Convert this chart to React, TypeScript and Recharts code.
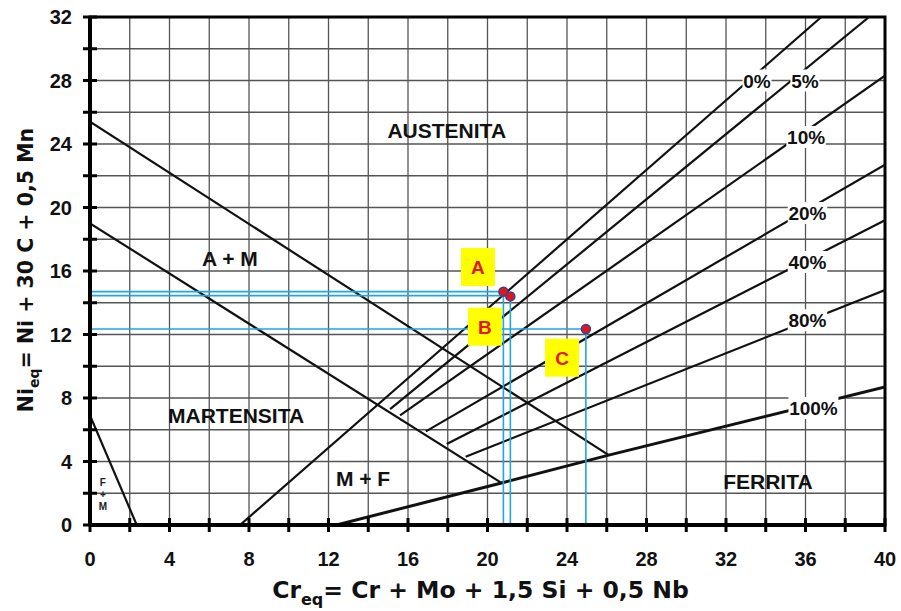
import React from 'react';
import { ComposedChart, Line, Scatter, XAxis, YAxis, CartesianGrid, ReferenceArea } from 'recharts';

// axis ticks: grid every 2, labels every 4
const xTicks = [0, 2, 4, 6, 8, 10, 12, 14, 16, 18, 20, 22, 24, 26, 28, 30, 32, 34, 36, 38, 40];
const yTicks = [0, 2, 4, 6, 8, 10, 12, 14, 16, 18, 20, 22, 24, 26, 28, 30, 32];

// phase boundaries (Cr_eq, Ni_eq)
const austeniteBoundary = [{ x: 0, y: 25.4 }, { x: 26.1, y: 4.4 }];
const martensiteBoundary = [{ x: 0, y: 19 }, { x: 20.7, y: 2.65 }];
const fmBoundary = [{ x: 0, y: 6.9 }, { x: 2.35, y: 0 }];
const ferrite0 = [{ x: 7.55, y: 0 }, { x: 36.8, y: 32 }];
const ferrite5 = [{ x: 15.1, y: 7.3 }, { x: 39.2, y: 32 }];
const ferrite10 = [{ x: 15.6, y: 6.9 }, { x: 40, y: 28.3 }];
const ferrite20 = [{ x: 16.9, y: 5.9 }, { x: 40, y: 22.7 }];
const ferrite40 = [{ x: 17.95, y: 5.1 }, { x: 40, y: 19.2 }];
const ferrite80 = [{ x: 18.9, y: 4.3 }, { x: 40, y: 14.8 }];
const ferrite100 = [{ x: 12.4, y: 0 }, { x: 20.7, y: 2.65 }, { x: 26.1, y: 4.4 }, { x: 40, y: 8.7 }];

const percentLabels = [
  { x: 33.56, y: 28.0, text: '0%' },
  { x: 35.97, y: 28.0, text: '5%' },
  { x: 36.03, y: 24.44, text: '10%' },
  { x: 36.1, y: 19.65, text: '20%' },
  { x: 36.1, y: 16.57, text: '40%' },
  { x: 36.1, y: 12.9, text: '80%' },
  { x: 36.4, y: 7.37, text: '100%' },
];

const regionLabels = [
  { x: 17.95, y: 24.9, text: 'AUSTENITA' },
  { x: 7.04, y: 16.85, text: 'A + M' },
  { x: 7.35, y: 6.93, text: 'MARTENSITA' },
  { x: 13.74, y: 2.99, text: 'M + F' },
  { x: 34.11, y: 2.77, text: 'FERRITA' },
];

// small stacked "F + M" label in the corner
const fmLabel = [{ x: 0.65, y: 2.0, lines: ['F', '+', 'M'] }];

// steel points A, B, C
const points = [
  { x: 20.8, y: 14.7, name: 'A' },
  { x: 21.15, y: 14.4, name: 'B' },
  { x: 24.95, y: 12.35, name: 'C' },
];
const pointTags = [
  { x: 19.52, y: 16.25, text: 'A' },
  { x: 19.87, y: 12.49, text: 'B' },
  { x: 23.75, y: 10.54, text: 'C' },
];

const guideA = [{ x: 0, y: 14.7 }, { x: 20.8, y: 14.7 }, { x: 20.8, y: 0 }];
const guideB = [{ x: 0, y: 14.45 }, { x: 21.15, y: 14.45 }, { x: 21.15, y: 0 }];
const guideC = [{ x: 0, y: 12.35 }, { x: 24.95, y: 12.35 }, { x: 24.95, y: 0 }];

const FONT = '"Liberation Sans", Arial, sans-serif';
const BLUE = '#22a5e0';

const blackLines = [austeniteBoundary, martensiteBoundary, fmBoundary, ferrite0, ferrite5, ferrite10, ferrite20, ferrite40, ferrite80];

const XTick = ({ x, y, payload }: any) => (
  <g>
    <line x1={x} x2={x} y1={y - 7} y2={y + 7} stroke="#000" strokeWidth={3} />
    {payload.value % 4 === 0 && (
      <text x={x} y={y + 41} textAnchor="middle" fontFamily={FONT} fontWeight="bold" fontSize={20} fill="#111">
        {payload.value}
      </text>
    )}
  </g>
);

const YTick = ({ x, y, payload }: any) => (
  <g>
    <line x1={x - 7} x2={x + 7} y1={y} y2={y} stroke="#000" strokeWidth={3} />
    {payload.value % 4 === 0 && (
      <text x={x - 18} y={y + 7} textAnchor="end" fontFamily={FONT} fontWeight="bold" fontSize={20} fill="#111">
        {payload.value}
      </text>
    )}
  </g>
);

const XTitle = ({ viewBox }: any) => (
  <text x={viewBox.x + viewBox.width / 2 - 7} y={viewBox.y + 73} textAnchor="middle"
    fontFamily='"DejaVu Sans", sans-serif' fontWeight="bold" fontSize={23.5} fill="#111">
    Cr<tspan fontSize={16} dy={7}>eq</tspan><tspan dy={-7}>= Cr + Mo + 1,5 Si + 0,5 Nb</tspan>
  </text>
);

const YTitle = ({ viewBox }: any) => {
  const cx = 33;
  const cy = viewBox.y + viewBox.height / 2 - 1;
  return (
    <text x={cx} y={cy} transform={`rotate(-90 ${cx} ${cy})`} textAnchor="middle"
      fontFamily='"DejaVu Sans", sans-serif' fontWeight="bold" fontSize={20.5} fill="#111">
      Ni<tspan fontSize={14} dy={6}>eq</tspan><tspan dy={-6}>= Ni + 30 C + 0,5 Mn</tspan>
    </text>
  );
};

const PercentShape = ({ cx, cy, payload }: any) => {
  const w = payload.text.length * 10.5 + 8;
  return (
    <g>
      <rect x={cx - w / 2} y={cy - 11} width={w} height={22} fill="#fff" />
      <text x={cx} y={cy + 7} textAnchor="middle" fontFamily={FONT} fontWeight="bold" fontSize={19} fill="#111">
        {payload.text}
      </text>
    </g>
  );
};

const RegionShape = ({ cx, cy, payload }: any) => (
  <text x={cx} y={cy + 8} textAnchor="middle" fontFamily={FONT} fontWeight="bold" fontSize={21} fill="#111">
    {payload.text}
  </text>
);

const StackShape = ({ cx, cy, payload }: any) => (
  <g>
    {payload.lines.map((s: string, i: number) => (
      <text key={i} x={cx} y={cy - 7 + i * 12} textAnchor="middle" fontFamily={FONT} fontWeight="bold"
        fontSize={10} fill="#222">{s}</text>
    ))}
  </g>
);

const TagShape = ({ cx, cy, payload }: any) => (
  <g>
    <rect x={cx - 17} y={cy - 19} width={34} height={38} fill="#ffff00" />
    <text x={cx} y={cy + 7} textAnchor="middle" fontFamily={FONT} fontWeight="bold" fontSize={19} fill="#e3171c">
      {payload.text}
    </text>
  </g>
);

const DotShape = ({ cx, cy }: any) => (
  <circle cx={cx} cy={cy} r={4.5} fill="#e0161d" stroke="#3a3f8f" strokeWidth={1.5} />
);

export default function App() {
  return (
    <div style={{ width: 901, height: 611, background: '#fff' }}>
      <style>{'body{margin:0}'}</style>
      <ComposedChart width={901} height={611} margin={{ top: 17, right: 16, bottom: 0, left: 0 }}>
        <CartesianGrid stroke="#555" strokeWidth={1.3} />
        <XAxis type="number" dataKey="x" domain={[0, 40]} ticks={xTicks} interval={0} height={86}
          tick={<XTick />} tickLine={false} tickSize={0} tickMargin={0}
          axisLine={{ stroke: '#000', strokeWidth: 4 }} label={<XTitle />} allowDataOverflow />
        <YAxis type="number" dataKey="y" domain={[0, 32]} ticks={yTicks} interval={0} width={90}
          tick={<YTick />} tickLine={false} tickSize={0} tickMargin={0}
          axisLine={{ stroke: '#000', strokeWidth: 4 }} label={<YTitle />} allowDataOverflow />
        <ReferenceArea x1={0} x2={40} y1={0} y2={32} fill="none" stroke="#000" strokeWidth={3} />
        {blackLines.map((d, i) => (
          <Line key={`b${i}`} data={d} dataKey="y" type="linear" stroke="#111" strokeWidth={2.2}
            dot={false} activeDot={false} isAnimationActive={false} />
        ))}
        <Line data={ferrite100} dataKey="y" type="linear" stroke="#111" strokeWidth={3}
          dot={false} activeDot={false} isAnimationActive={false} />
        <Scatter data={percentLabels} dataKey="y" shape={<PercentShape />} isAnimationActive={false} />
        <Scatter data={regionLabels} dataKey="y" shape={<RegionShape />} isAnimationActive={false} />
        <Scatter data={fmLabel} dataKey="y" shape={<StackShape />} isAnimationActive={false} />
        {[guideA, guideB, guideC].map((d, i) => (
          <Line key={`g${i}`} data={d} dataKey="y" type="linear" stroke={BLUE} strokeWidth={1.6}
            dot={false} activeDot={false} isAnimationActive={false} />
        ))}
        <Scatter data={pointTags} dataKey="y" shape={<TagShape />} isAnimationActive={false} />
        <Scatter data={points} dataKey="y" shape={<DotShape />} isAnimationActive={false} />
      </ComposedChart>
    </div>
  );
}
